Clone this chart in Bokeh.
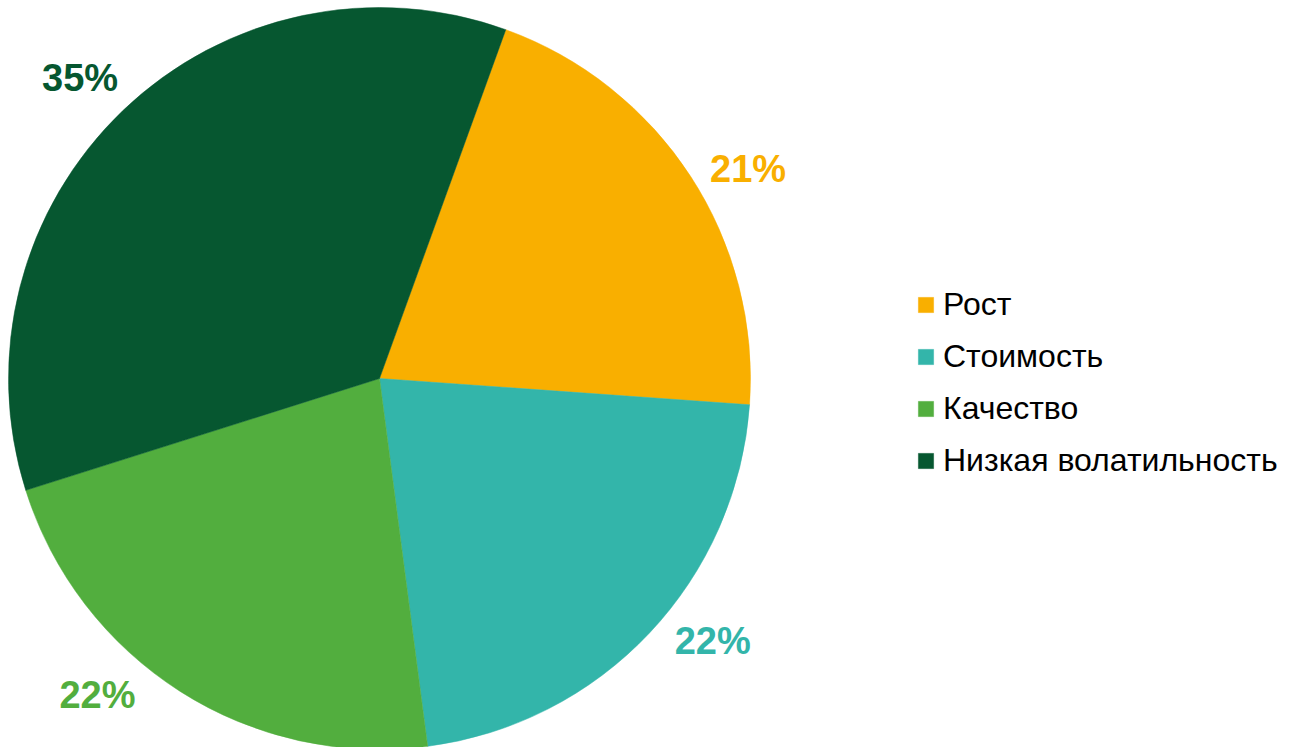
import numpy as np
from bokeh.plotting import figure
from bokeh.models import Range1d, ColumnDataSource, Legend, LegendItem
from bokeh.core.properties import value
from bokeh.embed import file_html
from bokeh.resources import INLINE

categories = ["Рост", "Стоимость", "Качество", "Низкая волатильность"]
shares = [20.6, 21.8, 22.2, 35.4]
labels = ["21%", "22%", "22%", "35%"]
colors = ["#F9AF00", "#33B5AA", "#52AE3E", "#065730"]

W, H = 1289, 747
CX, CY, R = 379, H - 378, 371
FIRST_ANGLE = 19.9  # degrees clockwise from 12 o'clock
LABEL_R = 424
LABEL_NUDGE = [3.4, -5.1, 9.2, -1.1]

vals = np.array(shares, dtype=float)
frac = vals / vals.sum() * 360.0
cw_start = FIRST_ANGLE + np.concatenate([[0], np.cumsum(frac)[:-1]])
cw_end = cw_start + frac
# convert clockwise-from-top to bokeh CCW-from-east radians
start_rad = np.deg2rad(90 - cw_end)
end_rad = np.deg2rad(90 - cw_start)

p = figure(width=W, height=H, output_backend="svg", toolbar_location=None,
           x_range=Range1d(0, W), y_range=Range1d(0, H), min_border=0,
           outline_line_color=None)
p.axis.visible = False
p.grid.visible = False
p.background_fill_color = "white"
p.border_fill_color = "white"

renderers = []
for i in range(len(categories)):
    r = p.wedge(x=CX, y=CY, radius=R, radius_units="screen",
                start_angle=start_rad[i], end_angle=end_rad[i],
                fill_color=colors[i], line_color=colors[i], line_width=0.5)
    renderers.append(r)

mid = cw_start + frac / 2 + np.array(LABEL_NUDGE)
lx = CX + LABEL_R * np.sin(np.deg2rad(mid))
ly = CY + LABEL_R * np.cos(np.deg2rad(mid))
src = ColumnDataSource(dict(x=lx, y=ly, t=labels, c=colors))
p.text(x="x", y="y", text="t", text_color="c", source=src,
       text_font=value("Liberation Sans"), text_font_style="bold",
       text_font_size="38px", text_align="center", text_baseline="middle")

legend = Legend(items=[LegendItem(label=categories[i], renderers=[renderers[i]]) for i in range(len(categories))],
                location=(916, 268), orientation="vertical",
                label_text_font="Liberation Sans", label_text_font_size="32px",
                label_text_color="black", glyph_width=19, glyph_height=19,
                label_standoff=8, spacing=15, padding=0, margin=0,
                border_line_color=None, background_fill_alpha=0)
p.add_layout(legend)

open("out.html", "w").write(file_html(p, INLINE))
